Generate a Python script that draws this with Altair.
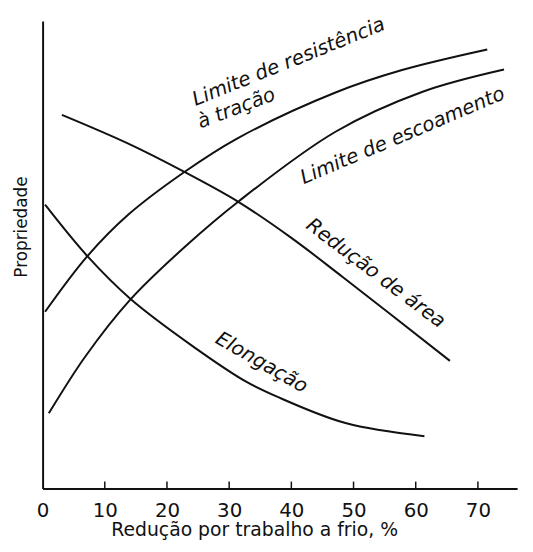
import altair as alt
import pandas as pd

# ---- data ----
x_ticks = [0, 10, 20, 30, 40, 50, 60, 70]
tick_marks = [10, 20, 30, 40, 50, 60, 70]

tracao_x = [0.4, 7.2, 13.8, 22.8, 31.2, 47.1, 57.8, 71.5]
tracao_y = [37.8, 49.7, 58.6, 67.7, 74.8, 84.7, 89.5, 93.9]

escoamento_x = [1.0, 6.9, 14.1, 22.8, 31.6, 47.1, 61.0, 74.2]
escoamento_y = [16.1, 28.3, 40.4, 51.6, 61.5, 76.3, 84.8, 89.6]

reducao_x = [3.1, 13.7, 22.8, 31.6, 40.0, 48.2, 65.5]
reducao_y = [79.9, 73.8, 67.7, 61.2, 53.6, 45.3, 27.3]

elongacao_x = [0.4, 7.2, 14.1, 24.4, 32.8, 37.6, 48.7, 61.4]
elongacao_y = [60.7, 49.7, 40.6, 30.2, 22.8, 19.7, 14.0, 11.2]

label_text = ["Limite de resistência", "à tração", "Limite de escoamento",
              "Redução de área", "Elongação"]
label_x = [24.6, 25.4, 42.0, 42.2, 27.6]
label_y = [81.8, 77.0, 65.1, 55.8, 31.3]
label_angle = [338, 339, 337, 37, 30]

# ---- tables ----
rows = []
for name, xs, ys in [("tracao", tracao_x, tracao_y),
                     ("escoamento", escoamento_x, escoamento_y),
                     ("reducao", reducao_x, reducao_y),
                     ("elongacao", elongacao_x, elongacao_y)]:
    for i, (a, b) in enumerate(zip(xs, ys)):
        rows.append({"serie": name, "x": a, "y": b, "ordem": i})
curves = pd.DataFrame(rows)
labels = pd.DataFrame({"text": label_text, "x": label_x, "y": label_y, "angle": label_angle})
ticks = pd.DataFrame({"x": tick_marks})

W, H = 480, 473
xscale = alt.Scale(domain=[0, 76.3], nice=False, zero=False)
yscale = alt.Scale(domain=[0, 100], nice=False)

x_axis = alt.Axis(values=x_ticks, tickSize=0, grid=False, labelFont="DejaVu Sans",
                  labelFontSize=20, labelColor="#111", labelPadding=12,
                  domainColor="#111", domainWidth=2,
                  title="Redução por trabalho a frio, %", titleFont="DejaVu Sans",
                  titleFontSize=19, titleFontWeight="normal", titleColor="#111",
                  titleX=214, titleY=48, titleAlign="center", titleBaseline="alphabetic",
                  labelFlush=False)
y_axis = alt.Axis(values=[], tickSize=0, labels=False, grid=False,
                  domainColor="#111", domainWidth=2,
                  title="Propriedade", titleFont="DejaVu Sans", titleFontSize=17,
                  titleFontWeight="normal", titleColor="#111",
                  titleX=-12, titleY=208, titleAngle=270, titleAlign="center",
                  titleBaseline="bottom")

lines = alt.Chart(curves).mark_line(interpolate="catmull-rom", strokeWidth=2, color="#111").encode(
    x=alt.X("x:Q", scale=xscale, axis=x_axis),
    y=alt.Y("y:Q", scale=yscale, axis=y_axis),
    detail="serie:N",
    order="ordem:Q",
)

tick_layer = alt.Chart(ticks).mark_rule(color="#111", strokeWidth=1.5).encode(
    x=alt.X("x:Q", scale=xscale),
    y=alt.value(H),
    y2=alt.value(H - 7),
)

text_layer = alt.Chart(labels).mark_text(
    align="left", baseline="alphabetic", font="DejaVu Sans", fontStyle="italic",
    fontSize=20, color="#111"
).encode(
    x=alt.X("x:Q", scale=xscale),
    y=alt.Y("y:Q", scale=yscale),
    text="text:N",
    angle=alt.Angle("angle:Q", scale=None),
)

chart = alt.layer(lines, tick_layer, text_layer).properties(
    width=W, height=H,
    autosize=alt.AutoSizeParams(type="none"),
    padding={"left": 35, "top": 10, "right": 8, "bottom": 52},
    background="white",
).configure_view(stroke=None)

chart.save("out.html", embed_options={"renderer": "svg", "actions": False})
